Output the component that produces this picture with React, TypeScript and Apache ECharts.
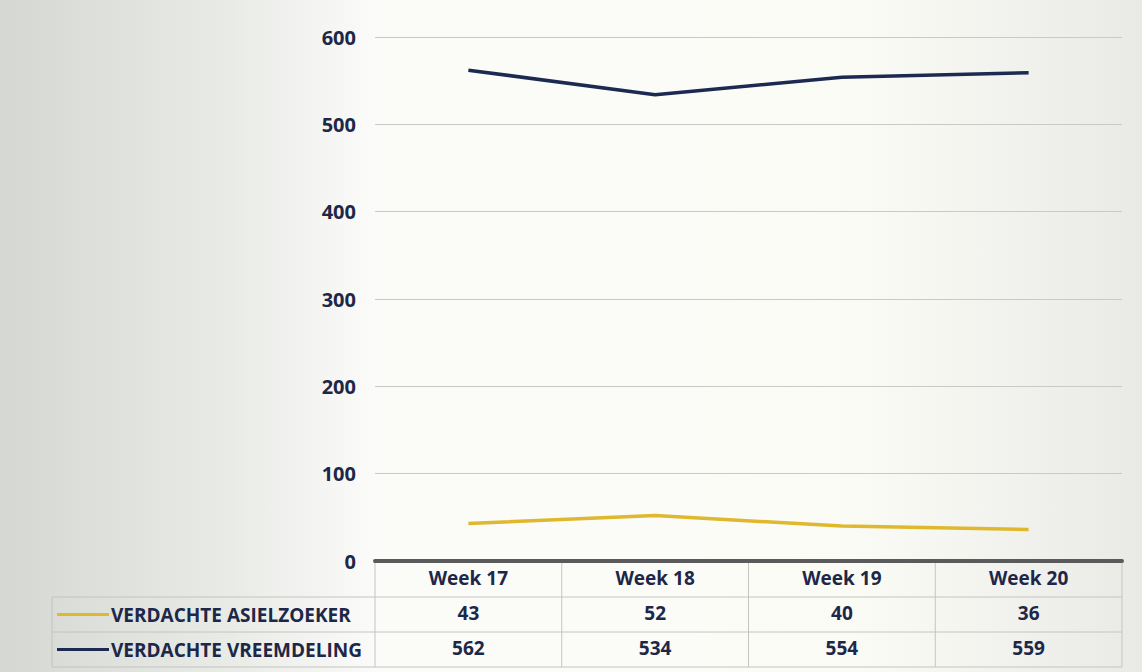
import React, { useEffect, useRef } from "react";
import * as echarts from "echarts";

const categories = ["Week 17", "Week 18", "Week 19", "Week 20"];
const asielzoeker = [43, 52, 40, 36];
const vreemdeling = [562, 534, 554, 559];
const seriesNames = ["VERDACHTE ASIELZOEKER", "VERDACHTE VREEMDELING"];
const seriesColors = ["#dfb82e", "#1c2a52"];
const yTicks = [0, 100, 200, 300, 400, 500, 600];

const W = 1142;
const H = 672;
const GL = 375;
const GR = 20;
const GT = 37;
const GB = 111;
const ROW = 35;

export default function App() {
  const ref = useRef<HTMLDivElement>(null);
  useEffect(() => {
    if (!ref.current) return;
    const chart = echarts.init(ref.current, null, { renderer: "svg" });
    const font = "'Open Sans', sans-serif";
    const textColor = "#1d2747";
    const axisY = H - GB;
    const gridRight = W - GR;
    const tableLeft = 52;
    const lines: any[] = [];
    const border = { stroke: "#c4c4c0", lineWidth: 1 };
    [1, 2, 3].forEach((r) => {
      lines.push({
        type: "line",
        shape: { x1: tableLeft, y1: axisY + ROW * r + 1, x2: gridRight, y2: axisY + ROW * r + 1 },
        style: border,
      });
    });
    const cw = (gridRight - GL) / categories.length;
    for (let i = 0; i <= categories.length; i++) {
      lines.push({
        type: "line",
        shape: { x1: GL + cw * i, y1: axisY, x2: GL + cw * i, y2: axisY + ROW * 3 + 1 },
        style: border,
      });
    }
    lines.push({
      type: "line",
      shape: { x1: tableLeft, y1: axisY + ROW + 1, x2: tableLeft, y2: axisY + ROW * 3 + 1 },
      style: border,
    });
    seriesNames.forEach((n, i) => {
      const cy = axisY + ROW * (i + 1) + ROW / 2 + 1;
      lines.push({
        type: "line",
        shape: { x1: 57, y1: cy, x2: 109, y2: cy },
        style: { stroke: seriesColors[i], lineWidth: 3 },
      });
      lines.push({
        type: "text",
        x: 111,
        y: cy,
        style: {
          text: n,
          font: `bold 19px ${font}`,
          fill: textColor,
          textVerticalAlign: "middle",
          textAlign: "left",
        },
      });
    });

    const valueAxis = (data: number[], offset: number) => ({
      type: "category",
      data: data.map(String),
      position: "bottom",
      offset,
      axisLine: { show: false },
      axisTick: { show: false },
      axisLabel: {
        margin: 7,
        fontFamily: font,
        fontWeight: "bold",
        fontSize: 19,
        color: textColor,
      },
    });

    chart.setOption({
      animation: false,
      backgroundColor: {
        type: "linear",
        x: 0,
        y: 0,
        x2: 1,
        y2: 0,
        colorStops: [
          { offset: 0, color: "#d5d7d3" },
          { offset: 0.2, color: "#e9ebe7" },
          { offset: 0.33, color: "#fbfbf9" },
          { offset: 0.75, color: "#fbfbf6" },
          { offset: 1, color: "#e9eae6" },
        ],
      },
      grid: { left: GL, right: GR, top: GT, bottom: GB },
      xAxis: [
        {
          type: "category",
          data: categories,
          boundaryGap: true,
          axisLine: { show: true, lineStyle: { color: "#5a5a5a", width: 4 } },
          axisTick: { show: false },
          axisLabel: {
            margin: 7,
            fontFamily: font,
            fontWeight: "bold",
            fontSize: 19,
            color: textColor,
          },
        },
        valueAxis(asielzoeker, ROW),
        valueAxis(vreemdeling, ROW * 2),
      ],
      yAxis: {
        type: "value",
        min: yTicks[0],
        max: yTicks[yTicks.length - 1],
        interval: 100,
        axisLine: { show: false },
        axisTick: { show: false },
        splitLine: { lineStyle: { color: "#c9c9c5", width: 1 } },
        axisLabel: {
          margin: 19,
          fontFamily: font,
          fontWeight: "bold",
          fontSize: 20,
          color: textColor,
        },
      },
      series: [
        {
          name: seriesNames[0],
          type: "line",
          data: asielzoeker,
          symbol: "none",
          lineStyle: { color: seriesColors[0], width: 3.5 },
          z: 3,
        },
        {
          name: seriesNames[1],
          type: "line",
          data: vreemdeling,
          symbol: "none",
          lineStyle: { color: seriesColors[1], width: 3.5 },
          z: 3,
        },
      ],
      graphic: lines,
    });
    return () => chart.dispose();
  }, []);
  return (
    <div
      ref={ref}
      style={{ position: "absolute", left: 0, top: 0, width: W, height: H }}
    />
  );
}
